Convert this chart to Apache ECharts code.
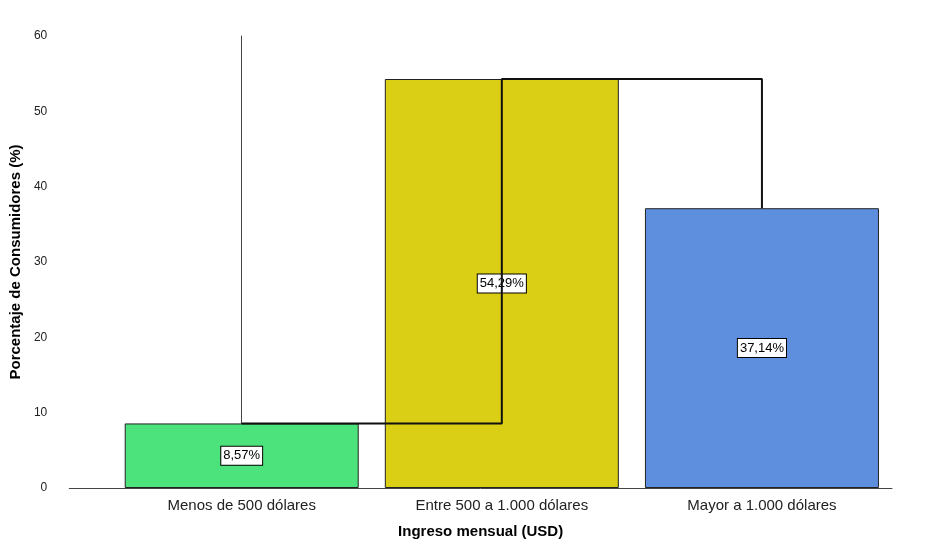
<!DOCTYPE html>
<html>
<head>
<meta charset="utf-8">
<script src="https://cdn.jsdelivr.net/npm/echarts@6/dist/echarts.min.js"></script>
<style>body{margin:0;background:#fff}#chart{width:942px;height:558px}</style>
</head>
<body>
<div id="chart"></div>
<script>
var categories = ['Menos de 500 dólares', 'Entre 500 a 1.000 dólares', 'Mayor a 1.000 dólares'];
var values = [8.57, 54.29, 37.14];
var colors = ['#4ce37c', '#dacf15', '#5e8ede'];

var barData = [];
var lineData = [];
for (var i = 0; i < values.length; i++) {
	barData.push({ value: [i, values[i]], itemStyle: { color: colors[i] } });
	lineData.push([i, values[i]]);
}

var myChart = echarts.init(document.getElementById('chart'));
var option = {
	animation: false,
	grid: { left: 67, right: 50, top: 36, bottom: 70 },
	xAxis: {
		type: 'value', min: -0.663, max: 2.5,
		name: 'Ingreso mensual (USD)', nameLocation: 'middle', nameGap: 36,
		nameTextStyle: { fontWeight: 'bold', fontSize: 15, color: '#000', fontFamily: 'Liberation Sans' },
		axisLine: { show: true, onZero: false, lineStyle: { color: '#444' } },
		axisTick: { show: false },
		splitLine: { show: false },
		axisLabel: {
			customValues: [0, 1, 2], fontSize: 15, color: '#222', margin: 10, fontFamily: 'Liberation Sans',
			formatter: function (v) { return categories[Math.round(v)]; }
		}
	},
	yAxis: {
		type: 'value', min: 0, max: 60, interval: 10,
		name: 'Porcentaje de Consumidores (%)', nameLocation: 'middle', nameGap: 44,
		nameTextStyle: { fontWeight: 'bold', fontSize: 15, color: '#000', fontFamily: 'Liberation Sans' },
		axisLine: { show: true, lineStyle: { color: '#444' } },
		axisTick: { show: false },
		splitLine: { show: false },
		axisLabel: { fontSize: 12, color: '#222', margin: 22, fontFamily: 'Liberation Sans' }
	},
	series: [{
		type: 'bar',
		data: barData,
		barWidth: 234,
		itemStyle: { borderColor: '#222', borderWidth: 1 },
		label: {
			show: true, position: 'inside', color: '#000', fontSize: 13, fontFamily: 'Liberation Sans',
			backgroundColor: '#fff', borderColor: '#000', borderWidth: 1, padding: [3, 2, 2, 2],
			formatter: function (p) { return p.value[1].toFixed(2).replace('.', ',') + '%'; }
		}
	}, {
		type: 'line',
		data: lineData,
		step: 'end',
		symbol: 'none',
		lineStyle: { color: '#111', width: 2 },
		z: 3
	}]
};
myChart.setOption(option);
</script>
</body>
</html>
